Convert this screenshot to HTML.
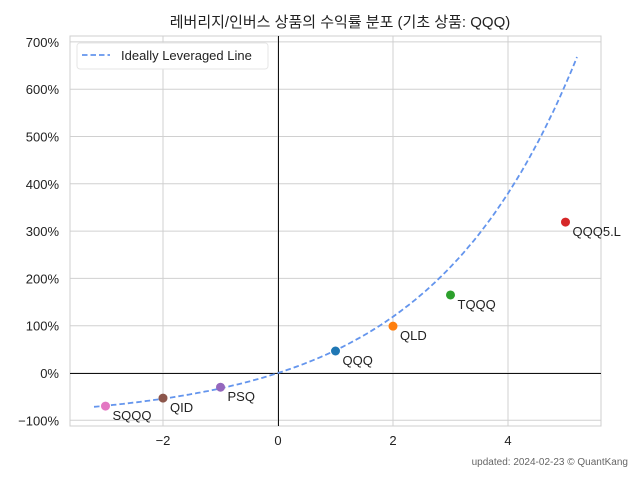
<!DOCTYPE html>
<html><head><meta charset="utf-8"><style>
body{margin:0;background:#fff;}
svg{display:block;font-family:"Liberation Sans","Noto Sans CJK KR",sans-serif;}
</style></head><body>
<svg id="c" width="640" height="480">
<text x="340" y="27" font-size="15" text-anchor="middle" fill="#222">레버리지/인버스 상품의 수익률 분포 (기초 상품: QQQ)</text>
<g id="grid"></g><g id="axes"></g><g id="marks"></g>
<g>
<rect x="77" y="43" width="191" height="26" rx="3" fill="#fff" stroke="#e6e6e6"/>
<line x1="82" y1="55" x2="110" y2="55" stroke="#6495ED" stroke-width="1.8" stroke-dasharray="5.5,3"/>
<text x="121" y="60" font-size="13" fill="#222">Ideally Leveraged Line</text>
</g>
<text x="628" y="465" font-size="10" fill="#666" text-anchor="end">updated: 2024-02-23 © QuantKang</text>
</svg>
<script>
const tickers=["SQQQ","QID","PSQ","QQQ","QLD","TQQQ","QQQ5.L"];
const leverage=[-3,-2,-1,1,2,3,5];
const returns=[-0.70,-0.53,-0.30,0.465,0.99,1.65,3.19];
const colors=["#e377c2","#8c564b","#9467bd","#1f77b4","#ff7f0e","#2ca02c","#d62728"];
const baseReturn=0.48;
const xTicks=[-2,0,2,4];
const yTicks=[-1,0,1,2,3,4,5,6,7];
const L=70,R=601,T=36,B=426;
const X=v=>278+v*57.5, Y=v=>373-v*47.3;
const NS="http://www.w3.org/2000/svg";
function mk(t,a,p){const e=document.createElementNS(NS,t);for(const k in a)e.setAttribute(k,a[k]);p.appendChild(e);return e;}
const g=document.getElementById('grid'),ax=document.getElementById('axes'),m=document.getElementById('marks');
xTicks.forEach(v=>{const l=mk('line',{x1:X(v),x2:X(v),y1:T,y2:B,stroke:'#d0d0d0'},g);


const t=mk('text',{x:X(v),y:B+19,'font-size':13,'text-anchor':'middle',fill:'#222'},ax);t.textContent=(v<0?'−'+(-v):v);

});
yTicks.forEach(v=>{const l=mk('line',{x1:L,x2:R,y1:Y(v),y2:Y(v),stroke:'#d0d0d0'},g);


const t=mk('text',{x:L-11,y:Y(v)+5,'font-size':13,'text-anchor':'end',fill:'#222'},ax);t.textContent=(v<0?'−'+(-v*100):v*100)+'%';

});
const fr=mk('rect',{x:L,y:T,width:R-L,height:B-T,fill:'none',stroke:'#cfcfcf'},ax);


const zx=mk('line',{x1:X(0)+0.5,x2:X(0)+0.5,y1:T,y2:B,stroke:'#111','stroke-width':1},ax);


const zy=mk('line',{x1:L,x2:R,y1:Y(0)+0.5,y2:Y(0)+0.5,stroke:'#111','stroke-width':1},ax);


let d='';for(let i=0;i<=200;i++){const lv=-3.2+8.4*i/200;const r=Math.pow(1+baseReturn,lv)-1;d+=(i?'L':'M')+X(lv).toFixed(1)+','+Y(r).toFixed(1);}
const p=mk('path',{d:d,fill:'none',stroke:'#6495ED','stroke-width':1.8,'stroke-dasharray':'5.5,3'},m);


tickers.forEach((n,i)=>{const c=mk('circle',{cx:X(leverage[i]),cy:Y(returns[i]),r:4.5,fill:colors[i]},m);


const t=mk('text',{x:X(leverage[i])+7,y:Y(returns[i])+14,'font-size':13,fill:'#222'},m);t.textContent=n;

});
</script>
</body></html>
